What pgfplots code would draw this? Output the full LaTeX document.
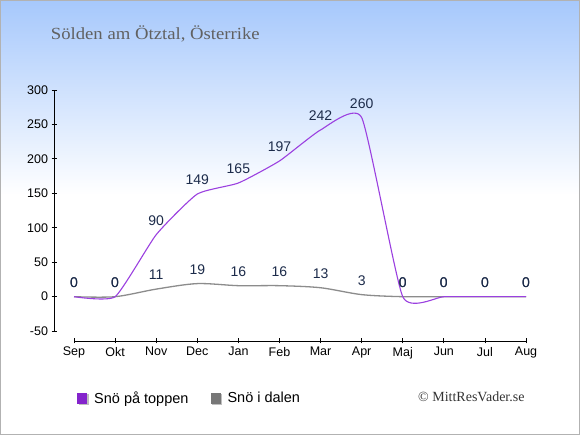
\documentclass[border=0pt]{standalone}
\usepackage{graphicx}
\usepackage{pgfplots}
\pgfplotsset{compat=1.18}
\usepackage{fontspec}
\setmainfont{Liberation Sans}
\newfontfamily\seriffont{Liberation Serif}
\definecolor{toppc}{HTML}{9B40E0}
\definecolor{toppl}{HTML}{8424CC}
\definecolor{dalc}{HTML}{8C8C8C}
\definecolor{dall}{HTML}{777777}
\definecolor{lbl}{HTML}{1C2B4A}
\definecolor{sky}{HTML}{A6C8FC}
\begin{document}
\begin{tikzpicture}[x=1pt,y=1pt]
\fill[white] (0,0) rectangle (580,435);
\shade[top color=sky,bottom color=white] (0,240) rectangle (580,435);
\draw[black!30,line width=1pt] (0.5,0.5) rectangle (579.5,434.5);
\node[anchor=base west,text=black!62,inner sep=0] at (50.7,395.5) {\seriffont\fontsize{17}{20}\selectfont\scalebox{1.1}[1]{Sölden am Ötztal, Österrike}};
\node[anchor=base west,text=black!80,inner sep=0] at (418,33.5) {\seriffont\fontsize{14}{16}\selectfont © MittResVader.se};
\begin{axis}[
  at={(54pt,94pt)}, anchor=south west, scale only axis,
  width=486pt, height=251pt,
  xmin=-0.487, xmax=11.34, ymin=-64.3, ymax=300,
  axis x line*=bottom, axis y line*=left, axis line style={draw=none},
  xtick={0,...,11},
  xticklabels={Sep,Okt,Nov,Dec,Jan,Feb,Mar,Apr,Maj,Jun,Jul,Aug},
  ytick={-50,0,50,100,150,200,250,300},
  tick align=center, major tick length=5pt,
  tick style={black, line width=0.8pt},
  ticklabel style={font=\fontsize{12.5}{14}\selectfont},
  /pgf/number format/assume math mode=true,
  clip=false,
  nodes near coords,
  every node near coord/.append style={anchor=center, yshift=14pt,
    font=\fontsize{14}{16}\selectfont, text=lbl},
  legend columns=2,
  reverse legend,
  legend style={at={(0.0473,-0.229)}, anchor=west, draw=none, fill=none,
    inner sep=0pt, font=\fontsize{14.5}{16}\selectfont,
    nodes={inner sep=0pt},
    /tikz/every even column/.append style={column sep=22pt}},
]
\addplot[dalc, line width=1.3pt, smooth,
  legend image code/.code={\fill[black!25,draw=none] (1.5pt,-6.5pt) rectangle (11.5pt,4.5pt);
    \fill[dall,draw=none] (0pt,-5.5pt) rectangle (10pt,5.5pt); \path[draw=none,fill=none] (0pt,0pt) rectangle (17pt,0.1pt);}]
  coordinates {(0,0) (1,0) (2,11) (3,19) (4,16) (5,16) (6,13) (7,3) (8,0) (9,0) (10,0) (11,0)};
\addlegendentry{Snö i dalen}
\addplot[toppc, line width=1.1pt, smooth, tension=0.3,
  legend image code/.code={\fill[black!25,draw=none] (1.5pt,-6.5pt) rectangle (11.5pt,4.5pt);
    \fill[toppl,draw=none] (0pt,-5.5pt) rectangle (10pt,5.5pt); \path[draw=none,fill=none] (0pt,0pt) rectangle (17pt,0.1pt);}]
  coordinates {(0,0) (1,0) (2,90) (3,149) (4,165) (5,197) (6,242) (7,260) (8,0) (9,0) (10,0) (11,0)};
\addlegendentry{Snö på toppen}
\draw[black, line width=0.8pt] (axis cs:0,-64.3) -- (axis cs:11,-64.3);
\draw[black, line width=0.8pt] (axis cs:-0.487,-50) -- (axis cs:-0.487,300);
\end{axis}
\end{tikzpicture}
\end{document}
